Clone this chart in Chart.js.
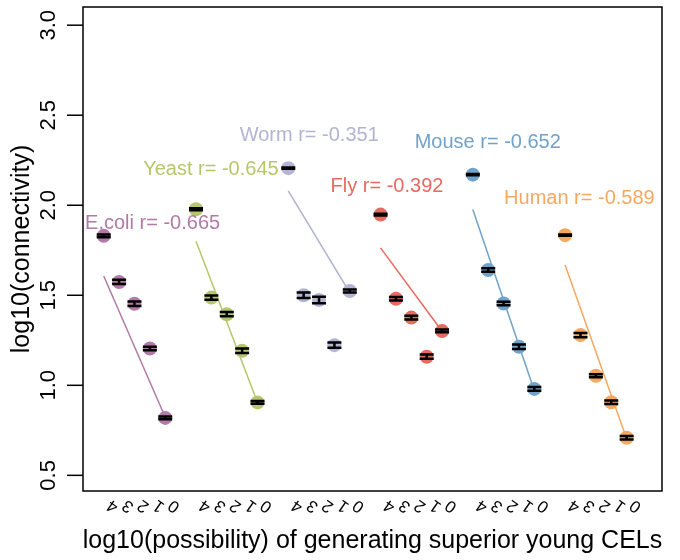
<!DOCTYPE html>
<html>
<head>
<meta charset="utf-8">
<script src="https://cdn.jsdelivr.net/npm/chart.js@4/dist/chart.umd.min.js"></script>
<style>
  html, body { margin: 0; padding: 0; background: #fff; }
  #wrap { width: 680px; height: 560px; }
</style>
</head>
<body>
<div id="wrap"><canvas id="connChart" width="680" height="560"></canvas></div>
<script>
// species groups, left to right
const species = ["E.coli", "Yeast", "Worm", "Fly", "Mouse", "Human"];
const rValues = ["-0.665", "-0.645", "-0.351", "-0.392", "-0.652", "-0.589"];
const colors = ["#b27aa6", "#b5c76a", "#b3b3d3", "#e8695f", "#6fa3cc", "#f5a860"];

// tick labels under each group: log10(possibility)
const possLabels = ["4", "3", "2", "1", "0"];

// mean log10(connectivity) for each possibility level
const ecoli = [1.83, 1.574, 1.453, 1.204, 0.819];
const yeast = [1.978, 1.487, 1.395, 1.192, 0.905];
const worm  = [2.206, 1.50, 1.474, 1.223, 1.524];
const fly   = [1.948, 1.481, 1.376, 1.159, 1.302];
const mouse = [2.17, 1.64, 1.454, 1.214, 0.98];
const human = [1.834, 1.279, 1.053, 0.906, 0.709];

// standard errors
const ecoliErr = [0.008, 0.012, 0.012, 0.01, 0.008];
const yeastErr = [0.006, 0.012, 0.012, 0.012, 0.008];
const wormErr  = [0.004, 0.015, 0.018, 0.015, 0.008];
const flyErr   = [0.005, 0.01, 0.01, 0.012, 0.008];
const mouseErr = [0.004, 0.01, 0.01, 0.012, 0.01];
const humanErr = [0.004, 0.012, 0.008, 0.01, 0.01];

// fitted line ends (first level, last level)
const fitStart = [1.607, 1.80, 2.08, 1.763, 1.976, 1.668];
const fitEnd   = [0.823, 0.905, 1.514, 1.30, 0.97, 0.703];

// label anchor (x in slot units, y in data units)
const labelX = [4.18, 7.97, 14.36, 19.42, 25.97, 31.93];
const labelY = [1.90, 2.20, 2.39, 2.105, 2.35, 2.04];

const yTicks = [0.5, 1.0, 1.5, 2.0, 2.5, 3.0];

const allMeans = [ecoli, yeast, worm, fly, mouse, human];
const allErrs = [ecoliErr, yeastErr, wormErr, flyErr, mouseErr, humanErr];

// slot position of level k in group g (gap of one slot between groups)
function slotX(g, k) { return g * 6 + k + 1; }

const datasets = [];
species.forEach(function (name, g) {
  datasets.push({
    label: name,
    data: allMeans[g].map(function (v, k) { return { x: slotX(g, k), y: v }; }),
    backgroundColor: colors[g],
    borderColor: colors[g],
    pointRadius: 7,
    pointBorderWidth: 0,
    showLine: false,
    order: 2,
  });
  datasets.push({
    label: name + " fit",
    data: [
      { x: slotX(g, 0), y: fitStart[g] },
      { x: slotX(g, 4), y: fitEnd[g] },
    ],
    borderColor: colors[g],
    borderWidth: 1.5,
    pointRadius: 0,
    showLine: true,
    fill: false,
    order: 1,
  });
});

const FONT = "'Liberation Sans', Arial, Helvetica, sans-serif";

// axes, box, error bars and labels drawn like base R graphics
const rStylePlugin = {
  id: "rStyle",
  afterDatasetsDraw(chart) {
    const c = chart.ctx;
    const xs = chart.scales.x;
    const ys = chart.scales.y;
    const area = chart.chartArea;

    // error bars
    c.save();
    c.strokeStyle = "#000";
    c.lineWidth = 2.5;
    allMeans.forEach(function (means, g) {
      means.forEach(function (v, k) {
        const px = xs.getPixelForValue(slotX(g, k));
        const top = ys.getPixelForValue(v + allErrs[g][k]);
        const bot = ys.getPixelForValue(v - allErrs[g][k]);
        c.beginPath();
        c.moveTo(px - 7, top); c.lineTo(px + 7, top);
        c.moveTo(px - 7, bot); c.lineTo(px + 7, bot);
        c.moveTo(px, top); c.lineTo(px, bot);
        c.stroke();
      });
    });
    c.restore();

    // r labels
    c.save();
    c.font = "20px " + FONT;
    c.textAlign = "center";
    c.textBaseline = "middle";
    species.forEach(function (name, g) {
      c.fillStyle = colors[g];
      c.fillText(name + " r= " + rValues[g], xs.getPixelForValue(labelX[g]), ys.getPixelForValue(labelY[g]));
    });
    c.restore();

    // box
    c.save();
    c.strokeStyle = "#000";
    c.lineWidth = 1.5;
    c.strokeRect(area.left, area.top, area.right - area.left, area.bottom - area.top);

    // y ticks and rotated labels
    c.fillStyle = "#000";
    c.font = "22px " + FONT;
    c.textAlign = "center";
    c.textBaseline = "middle";
    yTicks.forEach(function (t) {
      const py = ys.getPixelForValue(t);
      c.beginPath();
      c.moveTo(area.left - 16, py);
      c.lineTo(area.left, py);
      c.stroke();
      c.save();
      c.translate(49, py);
      c.rotate(-Math.PI / 2);
      c.fillText(t.toFixed(1), 0, 0);
      c.restore();
    });

    // x tick labels, turned over
    c.font = "17px " + FONT;
    species.forEach(function (name, g) {
      possLabels.forEach(function (lab, k) {
        const px = xs.getPixelForValue(slotX(g, k)) + 9;
        c.save();
        c.translate(px, 506);
        c.rotate(215 * Math.PI / 180);
        c.fillText(lab, 0, 0);
        c.restore();
      });
    });

    // axis titles
    c.font = "25px " + FONT;
    c.fillText("log10(possibility) of generating superior young CELs", (area.left + area.right) / 2, 541);
    c.save();
    c.translate(22, (area.top + area.bottom) / 2);
    c.rotate(-Math.PI / 2);
    c.fillText("log10(connectivity)", 0, 0);
    c.restore();
    c.restore();
  },
};

const ctx = document.getElementById("connChart").getContext("2d");
const connChart = new Chart(ctx, {
  type: "scatter",
  data: { datasets: datasets },
  options: {
    responsive: false,
    animation: false,
    devicePixelRatio: 1,
    layout: { padding: { left: 83, right: 18, top: 5, bottom: 69 } },
    plugins: {
      legend: { display: false },
      tooltip: { enabled: false },
    },
    scales: {
      x: {
        type: "linear",
        min: -0.347,
        max: 37.3,
        grid: { display: false, drawTicks: false },
        border: { display: false },
        ticks: { display: false },
      },
      y: {
        type: "linear",
        min: 0.413,
        max: 3.101,
        grid: { display: false, drawTicks: false },
        border: { display: false },
        ticks: { display: false },
      },
    },
  },
  plugins: [rStylePlugin],
});
</script>
</body>
</html>
